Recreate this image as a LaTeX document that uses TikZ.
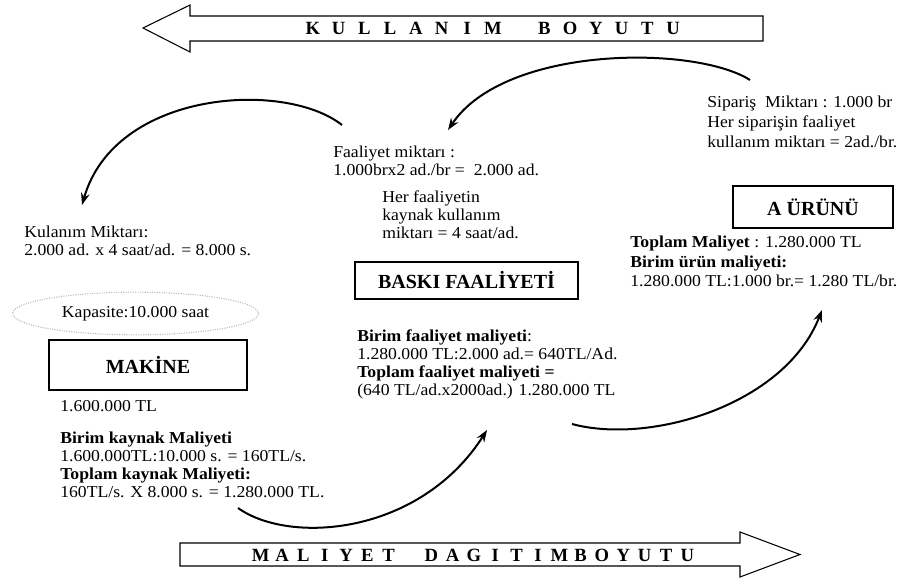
\documentclass[tikz,border=0pt]{standalone}
\usepackage{fontspec}
\setmainfont{Liberation Serif}
\newfontfamily\bodyfont{Liberation Serif}[FakeStretch=1.06]
\usetikzlibrary{arrows.meta,shapes.geometric}

% fixed-pitch letters for the spaced arrow captions
\newcommand{\ltrA}[1]{\makebox[19.3pt]{#1}}
\newcommand{\ltrB}[1]{\makebox[16pt]{#1}}

\begin{document}
\begin{tikzpicture}[x=0.75pt,y=-0.75pt,
  body/.style={inner sep=0pt, anchor=north west, align=left,
    font=\bodyfont\fontsize{12.5}{#1}\selectfont},
  body/.default=13.5pt,
  titlebox/.style={draw, line width=0.9pt, inner sep=0pt,
    font=\fontsize{15}{18}\selectfont\bfseries},
  bigarrow/.style={draw, line width=0.8pt, fill=white},
  arrowcap/.style={inner sep=0pt, font=\fontsize{14}{16}\selectfont\bfseries},
  flow/.style={line width=1.5pt, -{Stealth[length=9pt,width=6.5pt]}}
]
\useasboundingbox (0,0) rectangle (905,579);

% ---- dimension arrows ----
\draw[bigarrow] (143,28) -- (190,5) -- (190,16) -- (763,16) -- (763,41)
  -- (190,41) -- (190,52) -- cycle;
\node[arrowcap] (usecap) at (493,28.5)
  {\ltrA{K}\ltrA{U}\ltrA{L}\ltrA{L}\ltrA{A}\ltrA{N}\ltrA{I}\ltrA{M}\ltrA{}\ltrA{B}\ltrA{O}\ltrA{Y}\ltrA{U}\ltrA{T}\ltrA{U}};

\draw[bigarrow] (180,543) -- (740,543) -- (740,532) -- (800,554.5) -- (740,577)
  -- (740,566) -- (180,566) -- cycle;
\node[arrowcap] (costcap) at (474,555)
  {\ltrB{M}\ltrB{A}\ltrB{L}\ltrB{I}\ltrB{Y}\ltrB{E}\ltrB{T}\ltrB{}\ltrB{D}\ltrB{A}\ltrB{G}\ltrB{I}\ltrB{T}\ltrB{I}\ltrB{M}\ltrB{B}\ltrB{O}\ltrB{Y}\ltrB{U}\ltrB{T}\ltrB{U}};

% ---- product ----
\node[body=15pt] (order) at (707,96)
  {Sipariş\ \ Miktarı : 1.000 br\\Her siparişin faaliyet\\kullanım miktarı = 2ad./br.};
\node[titlebox, minimum width=120pt, minimum height=31.5pt] (product) at (813,207) {A ÜRÜNÜ};
\node[body=14.6pt] (prodcost) at (630,236)
  {\textbf{Toplam Maliyet} : 1.280.000 TL\\\textbf{Birim ürün maliyeti:}\\1.280.000 TL:1.000 br.= 1.280 TL/br.};

% ---- activity ----
\node[body] (actqty) at (333,146)
  {Faaliyet miktarı :\\1.000brx2 ad./br =\ \ 2.000 ad.};
\node[body] (actuse) at (382,190)
  {Her faaliyetin\\kaynak kullanım\\miktarı = 4 saat/ad.};
\node[titlebox, minimum width=167.25pt, minimum height=27.75pt] (activity) at (466.5,280.5) {BASKI FAALİYETİ};
\node[body] (actcost) at (357,329)
  {\textbf{Birim faaliyet maliyeti}:\\1.280.000 TL:2.000 ad.= 640TL/Ad.\\\textbf{Toplam faaliyet maliyeti =}\\(640 TL/ad.x2000ad.) 1.280.000 TL};

% ---- resource ----
\node[body] (resuse) at (24,226)
  {Kulanım Miktarı:\\2.000 ad. x 4 saat/ad. = 8.000 s.};
\node[ellipse, draw=gray!55, densely dotted, line width=0.8pt, inner sep=0pt,
  minimum width=184.5pt, minimum height=32pt,
  font=\bodyfont\fontsize{12.5}{14}\selectfont] (capacity) at (135.5,313.5) {Kapasite:10.000 saat};
\node[titlebox, minimum width=148.5pt, minimum height=37.5pt] (machine) at (148,365) {MAKİNE};
\node[body] (machval) at (60,400) {1.600.000 TL};
\node[body] (rescost) at (60,432)
  {\textbf{Birim kaynak Maliyeti}\\1.600.000TL:10.000 s. = 160TL/s.\\\textbf{Toplam kaynak Maliyeti:}\\160TL/s. X 8.000 s. = 1.280.000 TL.};

% ---- flow arcs ----
\coordinate (a1s) at (750,80);  \coordinate (a1e) at (448,130);
\coordinate (a2s) at (342,125); \coordinate (a2e) at (82,205);
\coordinate (a3s) at (238,508); \coordinate (a3e) at (487,430);
\coordinate (a4s) at (572,424); \coordinate (a4e) at (822,310);

\draw[flow] (a1s) .. controls (695,45) and (505,45) .. (a1e);
\draw[flow] (a2s) .. controls (285,80) and (115,90) .. (a2e);
\draw[flow] (a3s) .. controls (290,545) and (420,535) .. (a3e);
\draw[flow] (a4s) .. controls (650,445) and (785,405) .. (a4e);
\end{tikzpicture}
\end{document}
